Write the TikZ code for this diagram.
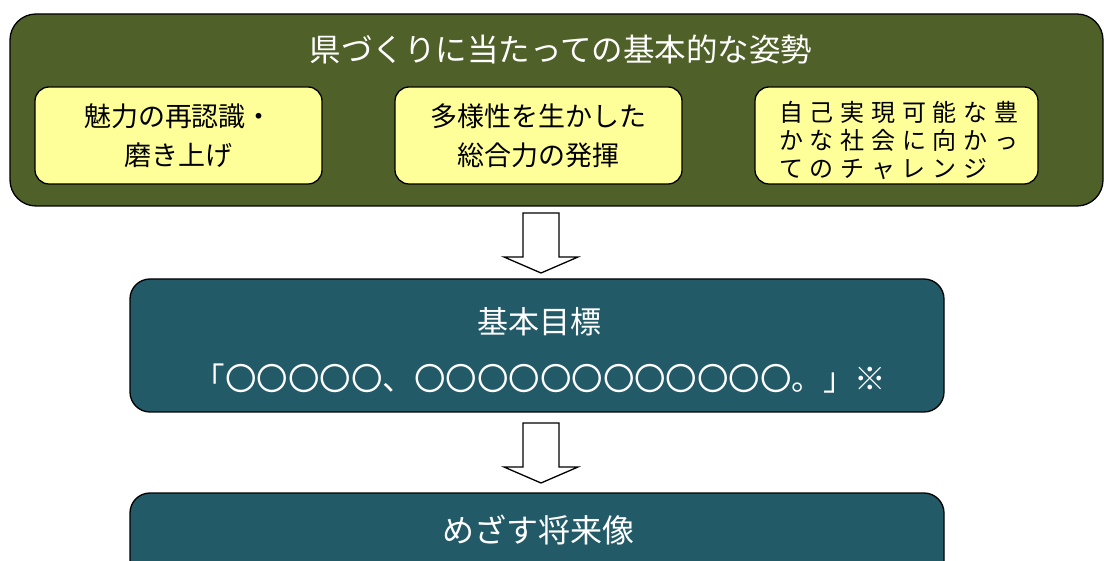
\documentclass[tikz,border=0pt]{standalone}
\usepackage{fontspec}
\setmainfont{Noto Sans CJK JP}
\usetikzlibrary{calc}
\definecolor{olive}{RGB}{79,96,41}
\definecolor{teal2}{RGB}{34,90,104}
\definecolor{ylw}{RGB}{255,255,153}
\tikzset{
  outerbox/.style={draw=black, line width=1.3pt, fill=olive, rounded corners=26pt},
  ybox/.style={draw=black, line width=1.3pt, fill=ylw, rounded corners=14pt, minimum width=287pt, minimum height=97pt, inner sep=0pt, font=\fontsize{27}{39}\selectfont, align=center},
  tbox/.style={draw=black, line width=1.3pt, fill=teal2, rounded corners=20pt},
  wtext/.style={text=white, inner sep=0pt},
  blockarrow/.style={draw=black, line width=1.3pt, fill=white, line join=miter},
}
\begin{document}
\begin{tikzpicture}[x=1pt,y=-1pt]
\clip (0,0) rectangle (1104,561);
\fill[white] (0,0) rectangle (1104,561);
% outer green box
\draw[outerbox] (10,14) rectangle (1103,206);
\node[wtext, font=\fontsize{31.5}{34}\selectfont] (title) at (561,50) {県づくりに当たっての基本的な姿勢};
% yellow boxes
\node[ybox] (y1) at (178.5,135.5) {魅力の再認識・\\磨き上げ};
\node[ybox] (y2) at (538.5,135.5) {多様性を生かした\\総合力の発揮};
\node[ybox, minimum width=283pt] (y3) at (896.5,135.5) {};
\node[inner sep=0pt, anchor=west, align=left, font=\fontsize{24}{28}\selectfont\addfontfeature{LetterSpace=28}] (y3text) at (779,140) {自己実現可能な豊\\かな社会に向かっ\\てのチャレンジ};
% teal box 2
\draw[tbox] (130,279) rectangle (944,412);
\node[wtext, font=\fontsize{31}{34}\selectfont] (goal) at (539,322) {基本目標};
\node[wtext, font=\fontsize{31.5}{34}\selectfont] (goaltext) at (540,379) {「〇〇〇〇〇、〇〇〇〇〇〇〇〇〇〇〇〇。」※};
% teal box 3
\draw[tbox] (130,493) rectangle (944,620);
\node[wtext, font=\fontsize{32}{34}\selectfont] (future) at (538,530) {めざす将来像};
% block arrows
\coordinate (a1) at (541,213);
\draw[blockarrow] (a1) ++(-18,0) -- ++(36,0) -- ++(0,44) -- ++(19,0) -- ($(a1)+(0,60)$) -- ++(-37,-16) -- ++(19,0) -- cycle;
\coordinate (a2) at (541,423);
\draw[blockarrow] (a2) ++(-18,0) -- ++(36,0) -- ++(0,44) -- ++(19,0) -- ($(a2)+(0,60)$) -- ++(-37,-16) -- ++(19,0) -- cycle;
\end{tikzpicture}
\end{document}
